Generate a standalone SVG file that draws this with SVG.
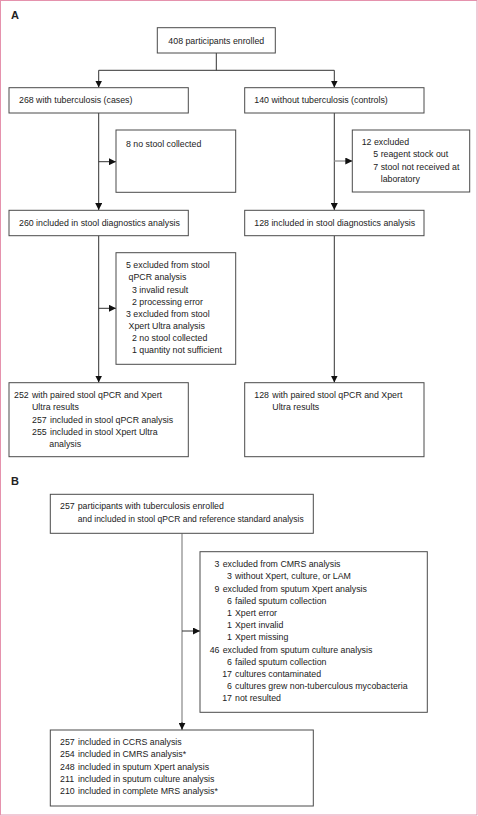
<svg xmlns="http://www.w3.org/2000/svg" width="478" height="816" viewBox="0 0 478 816">
<style>
.bx{fill:#fff;stroke:#4a4a4a;stroke-width:1}
.t{font-family:"Liberation Sans",Arial,sans-serif;font-size:8.8px;fill:#222}
.e{text-anchor:end}
.lb{font-family:"Liberation Sans",Arial,sans-serif;font-size:11px;font-weight:bold;fill:#222}
.ln{fill:none;stroke:#333;stroke-width:1}
.lg{fill:none;stroke:#999;stroke-width:1.4}
</style>
<defs>
<marker id="ah" viewBox="0 0 10 10" refX="10" refY="5" markerWidth="7" markerHeight="7" markerUnits="userSpaceOnUse" orient="auto">
<path d="M0,0 L10,5 L0,10 Z" fill="#111"/>
</marker>
</defs>
<rect x="0.5" y="0.5" width="476.5" height="814.5" fill="#fff" stroke="#e592ad" stroke-width="1"/>
<text class="lb" x="11" y="19">A</text>
<text class="lb" x="11" y="485">B</text>

<g id="connectors">
<path class="ln" d="M216.3,53 V70.3 M98.7,70.3 H334.3"/>
<path class="ln" d="M98.7,70.3 V87.5" marker-end="url(#ah)"/>
<path class="ln" d="M334.3,70.3 V87.5" marker-end="url(#ah)"/>
<path class="ln" d="M98.7,113 V210" marker-end="url(#ah)"/>
<path class="ln" d="M98.7,161.7 H116" marker-end="url(#ah)"/>
<path class="ln" d="M334.3,113 V210" marker-end="url(#ah)"/>
<path class="lg" d="M334.3,161 H352.3" marker-end="url(#ah)"/>
<path class="ln" d="M98.7,235.7 V382.5" marker-end="url(#ah)"/>
<path class="ln" d="M98.7,308.3 H116" marker-end="url(#ah)"/>
<path class="ln" d="M334.3,235.7 V382.5" marker-end="url(#ah)"/>
<path class="lg" d="M182,533.3 V729.5"/>
<path class="ln" d="M182,722 V729.8" marker-end="url(#ah)"/>
<path class="ln" d="M182,631 H200" marker-end="url(#ah)"/>
</g>

<g id="enrolled">
<rect class="bx" x="157.3" y="27.7" width="118" height="25.3"/>
<text class="t" x="216.3" y="43.7" text-anchor="middle">408 participants enrolled</text>
</g>
<g id="cases">
<rect class="bx" x="9" y="87.7" width="179.3" height="25.3"/>
<text class="t" x="19" y="102.7">268 with tuberculosis (cases)</text>
</g>
<g id="controls">
<rect class="bx" x="244.7" y="87.7" width="179.3" height="25.3"/>
<text class="t" x="254.3" y="102.7">140  without tuberculosis (controls)</text>
</g>
<g id="nostool">
<rect class="bx" x="116" y="130" width="119.7" height="62.3"/>
<text class="t" x="126" y="146.5">8 no stool collected</text>
</g>
<g id="excluded12">
<rect class="bx" x="352.3" y="130" width="117.4" height="62"/>
<text class="t" x="361.7" y="145">12 excluded</text>
<text class="t" x="373.3" y="157.3">5 reagent stock out</text>
<text class="t" x="373.3" y="169.6">7 stool not received at</text>
<text class="t" x="380.7" y="181.8">laboratory</text>
</g>
<g id="cases260">
<rect class="bx" x="9" y="210.3" width="179.3" height="25.4"/>
<text class="t" x="19" y="225.5">260 included in stool diagnostics analysis</text>
</g>
<g id="controls128">
<rect class="bx" x="244.7" y="210.3" width="179.3" height="25.4"/>
<text class="t" x="254.3" y="225.5">128  included in stool diagnostics analysis</text>
</g>
<g id="excludedstool">
<rect class="bx" x="116" y="252.7" width="119.7" height="111.6"/>
<text class="t" x="126" y="268.3">5 excluded from stool</text>
<text class="t" x="128.6" y="280.4">qPCR analysis</text>
<text class="t" x="132" y="292.6">3 invalid result</text>
<text class="t" x="132" y="304.7">2 processing error</text>
<text class="t" x="126" y="316.9">3 excluded from stool</text>
<text class="t" x="128.6" y="329">Xpert Ultra analysis</text>
<text class="t" x="132" y="341.2">2 no stool collected</text>
<text class="t" x="132" y="353.3">1 quantity not sufficient</text>
</g>
<g id="paired252">
<rect class="bx" x="9" y="382.7" width="179.3" height="74"/>
<text class="t" x="14" y="398.3">252</text>
<text class="t" x="32" y="398.3">with paired stool qPCR and Xpert</text>
<text class="t" x="32" y="410.4">Ultra results</text>
<text class="t" x="32" y="422.6">257</text>
<text class="t" x="50" y="422.6">included in stool qPCR analysis</text>
<text class="t" x="32" y="434.7">255</text>
<text class="t" x="50" y="434.7">included in stool Xpert Ultra</text>
<text class="t" x="49.3" y="446.8">analysis</text>
</g>
<g id="paired128">
<rect class="bx" x="244.7" y="382.7" width="179.3" height="74"/>
<text class="t" x="254.3" y="398.3">128</text>
<text class="t" x="272.3" y="398.3">with paired stool qPCR and Xpert</text>
<text class="t" x="272.3" y="410.4">Ultra results</text>
</g>
<g id="tb257">
<rect class="bx" x="50.3" y="494.3" width="263" height="39"/>
<text class="t" x="60" y="509.3">257</text>
<text class="t" x="77.7" y="509.3">participants with tuberculosis enrolled</text>
<text class="t" x="77.7" y="521.6" textLength="226" lengthAdjust="spacingAndGlyphs">and included in stool qPCR and reference standard analysis</text>
</g>
<g id="excludedB">
<rect class="bx" x="200" y="551.7" width="227.3" height="160.6"/>
<text class="t e" x="219.5" y="567.3">3</text><text class="t" x="222.7" y="567.3">excluded from CMRS analysis</text>
<text class="t e" x="232" y="579.4">3</text><text class="t" x="235" y="579.4">without Xpert, culture, or LAM</text>
<text class="t e" x="219.5" y="591.6">9</text><text class="t" x="222.7" y="591.6">excluded from sputum Xpert analysis</text>
<text class="t e" x="232" y="603.8">6</text><text class="t" x="235" y="603.8">failed sputum collection</text>
<text class="t e" x="232" y="616">1</text><text class="t" x="235" y="616">Xpert error</text>
<text class="t e" x="232" y="628.2">1</text><text class="t" x="235" y="628.2">Xpert invalid</text>
<text class="t e" x="232" y="640.4">1</text><text class="t" x="235" y="640.4">Xpert missing</text>
<text class="t e" x="219.5" y="652.6">46</text><text class="t" x="222.7" y="652.6">excluded from sputum culture analysis</text>
<text class="t e" x="232" y="664.8">6</text><text class="t" x="235" y="664.8">failed sputum collection</text>
<text class="t e" x="232" y="677">17</text><text class="t" x="235" y="677">cultures contaminated</text>
<text class="t e" x="232" y="689.2">6</text><text class="t" x="235" y="689.2">cultures grew non-tuberculous mycobacteria</text>
<text class="t e" x="232" y="701.4">17</text><text class="t" x="235" y="701.4">not resulted</text>
</g>
<g id="includedB">
<rect class="bx" x="50.3" y="730" width="263" height="76"/>
<text class="t" x="60" y="745">257</text><text class="t" x="78" y="745">included in CCRS analysis</text>
<text class="t" x="60" y="757.3">254</text><text class="t" x="78" y="757.3">included in CMRS analysis*</text>
<text class="t" x="60" y="769.6">248</text><text class="t" x="78" y="769.6">included in sputum Xpert analysis</text>
<text class="t" x="60" y="781.8">211</text><text class="t" x="78" y="781.8">included in sputum culture analysis</text>
<text class="t" x="60" y="794">210</text><text class="t" x="78" y="794">included in complete MRS analysis*</text>
</g>
</svg>
